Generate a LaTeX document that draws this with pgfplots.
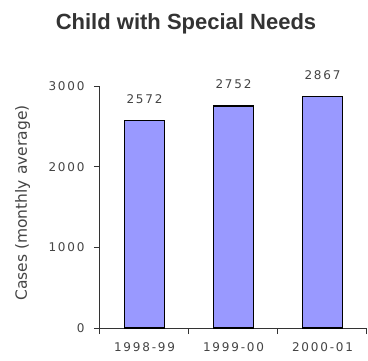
\documentclass[border=0pt]{standalone}
\usepackage{pgfplots}
\pgfplotsset{compat=1.18}
\usepackage{fontspec}
\setmainfont{DejaVu Sans}
\newfontfamily\tickfont[LetterSpace=15]{DejaVu Sans}
\newfontfamily\titlefont{Liberation Sans}

\definecolor{barfill}{HTML}{9999FF}
\definecolor{axisgray}{HTML}{333333}
\definecolor{textgray}{HTML}{444444}

\begin{document}
\begin{tikzpicture}
  % fixed canvas
  \useasboundingbox (-100pt,-32pt) rectangle (268pt,328pt);

  \begin{axis}[
    at={(0pt,0pt)}, anchor=south west,
    scale only axis,
    width=267pt, height=242pt,
    xmin=-0.5, xmax=2.5,
    ymin=0, ymax=3000,
    axis lines=left,
    axis line style={-, axisgray, line width=1pt},
    tick style={axisgray, line width=1pt},
    tick align=outside,
    major tick length=6pt,
    xtick={-0.5,0.5,1.5,2.5},
    xticklabels={,,,},
    extra x ticks={0,1,2},
    extra x tick labels={1998-99,1999-00,2000-01},
    extra x tick style={major tick length=0pt},
    ytick={0,1000,2000,3000},
    /pgf/number format/.cd, 1000 sep={}, assume math mode=true, /pgfplots/.cd,
    ticklabel style={font=\tickfont\fontsize{12}{14}\selectfont, text=textgray},
    xticklabel style={yshift=-11pt},
    yticklabel style={xshift=-6pt},
    ybar,
    bar width=0.45,
    nodes near coords,
    every node near coord/.append style={font=\tickfont\fontsize{12}{14}\selectfont, text=textgray, yshift=13pt},
    clip=false,
  ]
    \addplot[fill=barfill, draw=black, line width=1.5pt] coordinates {(0,2572) (1,2752) (2,2867)};
  \end{axis}

  \node[anchor=base, text=axisgray, font=\titlefont\bfseries\fontsize{22}{26}\selectfont] at (86pt,299pt) {Child with Special Needs};
  \node[rotate=90, anchor=base, text=textgray, font=\fontsize{15.5}{18}\selectfont] at (-73pt,125pt) {Cases (monthly average)};
\end{tikzpicture}
\end{document}
